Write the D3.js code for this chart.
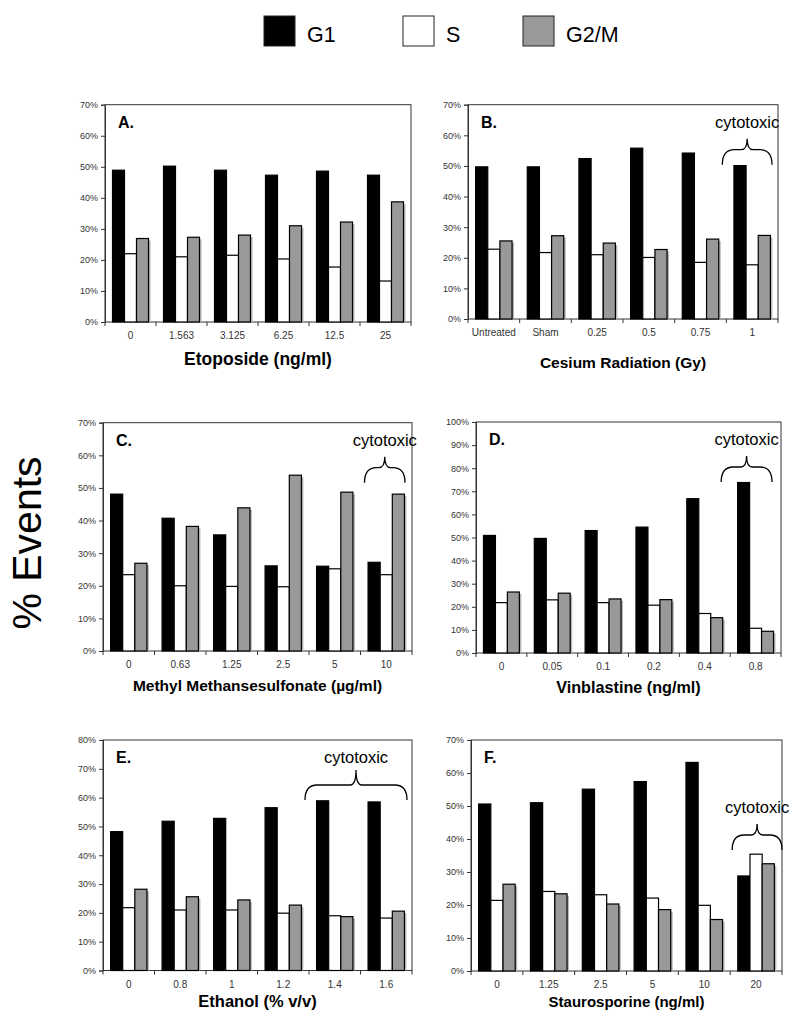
<!DOCTYPE html>
<html><head><meta charset="utf-8">
<script src="https://cdn.jsdelivr.net/npm/d3@7"></script>
<style>body{margin:0;background:#fff}svg{display:block}text{font-family:Arial,"Liberation Sans",sans-serif}</style>
</head><body>
<svg id="c" width="800" height="1031"></svg>
<script>
// ---- data ----
const series = ["G1", "S", "G2/M"];
const catsA = ["0", "1.563", "3.125", "6.25", "12.5", "25"];
const g1A = [48.9, 50.2, 48.9, 47.3, 48.6, 47.3];
const sA = [22.0, 21.0, 21.5, 20.3, 17.7, 13.2];
const g2mA = [26.9, 27.3, 28.0, 31.0, 32.2, 38.7];

const catsB = ["Untreated", "Sham", "0.25", "0.5", "0.75", "1"];
const g1B = [49.7, 49.7, 52.4, 55.8, 54.2, 50.1];
const sB = [22.8, 21.7, 21.0, 20.1, 18.5, 17.7];
const g2mB = [25.5, 27.2, 24.8, 22.7, 26.1, 27.3];

const catsC = ["0", "0.63", "1.25", "2.5", "5", "10"];
const g1C = [48.1, 40.7, 35.6, 26.1, 26.0, 27.2];
const sC = [23.4, 20.0, 19.8, 19.7, 25.2, 23.4];
const g2mC = [26.9, 38.2, 43.9, 53.9, 48.7, 48.1];

const catsD = ["0", "0.05", "0.1", "0.2", "0.4", "0.8"];
const g1D = [50.9, 49.6, 53.0, 54.5, 66.8, 73.8];
const sD = [21.8, 23.0, 21.8, 20.7, 17.1, 10.7];
const g2mD = [26.4, 25.9, 23.4, 23.1, 15.3, 9.4];

const catsE = ["0", "0.8", "1", "1.2", "1.4", "1.6"];
const g1E = [48.2, 51.8, 52.8, 56.5, 58.9, 58.5];
const sE = [21.8, 21.0, 21.0, 19.9, 19.0, 18.2];
const g2mE = [28.2, 25.6, 24.5, 22.7, 18.7, 20.6];

const catsF = ["0", "1.25", "2.5", "5", "10", "20"];
const g1F = [50.6, 51.0, 55.1, 57.4, 63.2, 28.8];
const sF = [21.4, 24.1, 23.1, 22.1, 19.9, 35.4];
const g2mF = [26.3, 23.4, 20.3, 18.6, 15.6, 32.5];

const yMaxes = {A: 70, B: 70, C: 70, D: 100, E: 80, F: 70};
const titles = {
  A: "Etoposide (ng/ml)", B: "Cesium Radiation (Gy)", C: "Methyl Methansesulfonate (µg/ml)",
  D: "Vinblastine (ng/ml)", E: "Ethanol (% v/v)", F: "Staurosporine (ng/ml)"
};
const cytotoxicLabel = "cytotoxic";
const yAxisTitle = "% Events";

// ---- layout / style ----
const colors = {"G1": "#000", "S": "#fff", "G2/M": "#999"};
const panels = [
  {id: "A", cats: catsA, vals: [g1A, sA, g2mA], l: 105, r: 411, t: 104.7, b: 322, tfs: 17.5, tdy: 43, brace: null},
  {id: "B", cats: catsB, vals: [g1B, sB, g2mB], l: 468, r: 778, t: 104.7, b: 319, tfs: 15.5, tdy: 49, brace: {i0: 5, i1: 5, dx0: -4, dx1: -6, dy: 0}},
  {id: "C", cats: catsC, vals: [g1C, sC, g2mC], l: 103, r: 412, t: 422.7, b: 651, tfs: 15.5, tdy: 40, brace: {i0: 5, i1: 5, dx0: 4, dx1: -7, dy: 0}},
  {id: "D", cats: catsD, vals: [g1D, sD, g2mD], l: 476, r: 781, t: 422, b: 653, tfs: 16.2, tdy: 40, brace: {i0: 5, i1: 5, dx0: -9, dx1: -9, dy: 0}},
  {id: "E", cats: catsE, vals: [g1E, sE, g2mE], l: 103, r: 412, t: 740, b: 970.5, tfs: 16.5, tdy: 36, brace: {i0: 4, i1: 5, dx0: -4, dx1: -5, dy: 0, tip: 30}},
  {id: "F", cats: catsF, vals: [g1F, sF, g2mF], l: 471, r: 782, t: 740, b: 971, tfs: 15, tdy: 36, brace: {i0: 5, i1: 5, dx0: 2, dx1: 0, dy: 50}}
];

const svg = d3.select("#c");

// legend
const legendX = [264, 403, 523];
series.forEach((s, i) => {
  svg.append("rect").attr("x", legendX[i]).attr("y", 16).attr("width", 31).attr("height", 30)
    .attr("fill", colors[s]).attr("stroke", "#222").attr("stroke-width", 1);
  svg.append("text").attr("x", legendX[i] + 43).attr("y", 42).attr("font-size", 21.5)
    .attr("fill", "#000").text(s);
});

// y-axis global title
svg.append("text").attr("transform", "translate(41,543) rotate(-90)")
  .attr("text-anchor", "middle").attr("font-size", 41).attr("fill", "#000").text(yAxisTitle);

panels.forEach(p => {
  const g = svg.append("g");
  const x0 = d3.scaleBand().domain(p.cats).range([p.l, p.r]).paddingInner(0).paddingOuter(0);
  const x1 = d3.scaleBand().domain(series).range([0, x0.bandwidth()]).paddingInner(0).paddingOuter(0.625);
  const y = d3.scaleLinear().domain([0, yMaxes[p.id]]).range([p.b, p.t]);

  // frame
  g.append("rect").attr("x", p.l).attr("y", p.t).attr("width", p.r - p.l).attr("height", p.b - p.t)
    .attr("fill", "none").attr("stroke", "#333").attr("stroke-width", 1);

  // bars
  const data = [];
  p.cats.forEach((c, ci) => series.forEach((s, si) => data.push({c, s, v: p.vals[si][ci]})));
  // shadows for grey bars
  g.selectAll(".sh").data(data.filter(d => d.s === "G2/M")).join("rect")
    .attr("x", d => x0(d.c) + x1(d.s) + 2).attr("y", d => y(d.v) + 2)
    .attr("width", x1.bandwidth()).attr("height", d => p.b - y(d.v) - 2)
    .attr("fill", "#b8b8b8");
  g.selectAll(".bar").data(data).join("rect")
    .attr("x", d => x0(d.c) + x1(d.s)).attr("y", d => y(d.v))
    .attr("width", x1.bandwidth()).attr("height", d => p.b - y(d.v))
    .attr("fill", d => colors[d.s]).attr("stroke", "#000").attr("stroke-width", 1.2);

  // y axis
  const ya = d3.axisLeft(y).ticks(yMaxes[p.id] / 10).tickFormat(d => d + "%").tickSize(4).tickPadding(3);
  const yg = g.append("g").attr("transform", `translate(${p.l},0)`).call(ya);
  yg.select(".domain").attr("stroke", "#333");
  yg.selectAll(".tick line").attr("stroke", "#333");
  yg.selectAll(".tick text").attr("font-size", 9).attr("fill", "#333").attr("font-family", "Arial, Liberation Sans, sans-serif");

  // x axis: boundary ticks
  const bounds = p.cats.map(c => x0(c)).concat([p.r]);
  g.selectAll(".xt").data(bounds).join("line")
    .attr("x1", d => d).attr("x2", d => d).attr("y1", p.b).attr("y2", p.b + 4)
    .attr("stroke", "#333");
  g.selectAll(".xl").data(p.cats).join("text")
    .attr("x", d => x0(d) + x0.bandwidth() / 2).attr("y", p.b + 17)
    .attr("text-anchor", "middle").attr("font-size", 10).attr("fill", "#333").text(d => d);

  // x title
  g.append("text").attr("x", (p.l + p.r) / 2).attr("y", p.b + p.tdy)
    .attr("text-anchor", "middle").attr("font-size", p.tfs).attr("font-weight", "bold")
    .attr("fill", "#000").text(titles[p.id]);

  // panel letter
  g.append("text").attr("x", p.l + 13).attr("y", p.t + 23).attr("font-size", 16)
    .attr("font-weight", "bold").attr("fill", "#000").text(p.id + ".");

  // brace
  if (p.brace) {
    const br = p.brace;
    const xa = x0(p.cats[br.i0]) + br.dx0;
    const xb = x0(p.cats[br.i1]) + x0.bandwidth() + br.dx1;
    const xm = (xa + xb) / 2;
    const yT = p.t + br.dy + (br.tip || 34);
    const yA = p.t + br.dy + 45;
    const yE = p.t + br.dy + 60;
    const rr = 6;
    const path = `M${xa},${yE} Q${xa},${yA} ${xa + rr * 2},${yA} L${xm - rr},${yA} Q${xm},${yA} ${xm},${yT}` +
      ` Q${xm},${yA} ${xm + rr},${yA} L${xb - rr * 2},${yA} Q${xb},${yA} ${xb},${yE}`;
    g.append("path").attr("d", path).attr("fill", "none").attr("stroke", "#000").attr("stroke-width", 1.3);
    g.append("text").attr("x", xm).attr("y", p.t + br.dy + 23).attr("text-anchor", "middle")
      .attr("font-size", 16.5).attr("fill", "#000").text(cytotoxicLabel);
  }
});
</script>
</body></html>
